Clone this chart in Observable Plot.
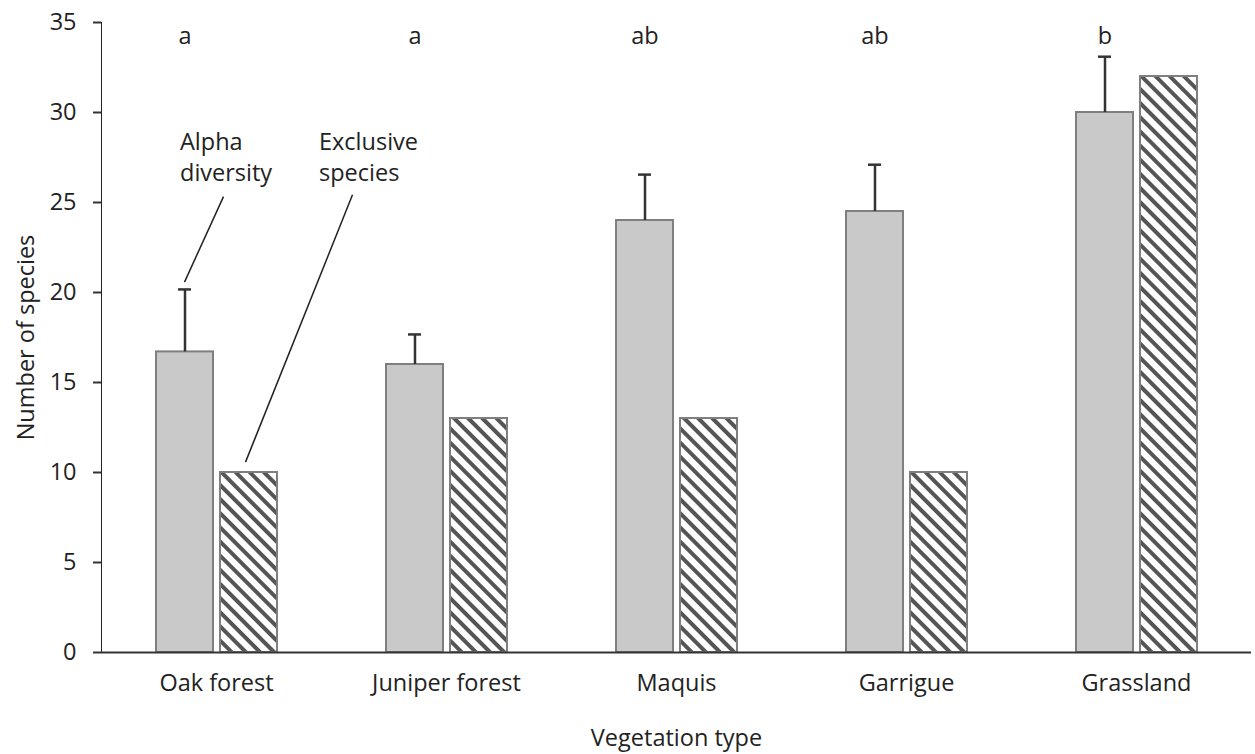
<!DOCTYPE html>
<html><head><meta charset="utf-8">
<script src="https://cdn.jsdelivr.net/npm/d3@7"></script>
<script src="https://cdn.jsdelivr.net/npm/@observablehq/plot@0.6"></script>
<style>
body{margin:0;background:#fff}
#chart svg{display:block}
#chart svg [aria-label^="y-axis"] path, #chart svg [aria-label^="y-axis"] line { stroke-width: 2px; stroke: #333; }
</style>
</head><body><div id="chart"></div>
<script>
const categories = ["Oak forest", "Juniper forest", "Maquis", "Garrigue", "Grassland"];
const series = ["Alpha diversity", "Exclusive species"];
const alphaDiversity = [16.7, 16.0, 24.0, 24.5, 30.0];
const alphaError = [3.47, 1.67, 2.55, 2.6, 3.1];
const exclusiveSpecies = [10, 13, 13, 10, 32];
const groupLetters = ["a", "a", "ab", "ab", "b"];
const yTicks = [0, 5, 10, 15, 20, 25, 30, 35];
const annotationText = ["Alpha\ndiversity", "Exclusive\nspecies"];

const rows = categories.flatMap((c, i) => [
  {category: c, series: series[0], value: alphaDiversity[i], err: alphaError[i], letter: groupLetters[i], note: annotationText[0]},
  {category: c, series: series[1], value: exclusiveSpecies[i], err: null, letter: null, note: annotationText[1]}
]);

const isAlpha = d => d.series === series[0];
const ink = "#222";

const plot = Plot.plot({
  width: 1255, height: 754,
  marginLeft: 100, marginRight: 3, marginTop: 22, marginBottom: 102,
  style: {fontFamily: "'Open Sans', sans-serif", fontSize: "23.5px", color: ink, background: "#fff"},
  facet: {data: rows, x: "category"},
  fx: {domain: categories, padding: 0, axis: "bottom", label: "Vegetation type", labelAnchor: "center",
       tickSize: 0, tickPadding: 22, labelOffset: 93},
  x: {domain: series, axis: null, paddingInner: 0.11, paddingOuter: 0.827},
  y: {domain: [0, 35], ticks: yTicks, tickSize: 8, tickPadding: 17, line: true,
      label: "Number of species", labelAnchor: "center", labelOffset: 84, labelArrow: "none"},
  color: {domain: series, range: ["#c9c9c9", "url(#hatch)"]},
  marks: [
    Plot.barY(rows, {x: "series", y: "value", fill: "series", stroke: "#7f7f7f", strokeWidth: 2}),
    Plot.ruleX(rows, {filter: isAlpha, x: "series", y1: "value", y2: d => d.value + d.err, stroke: "#333", strokeWidth: 2.5}),
    Plot.tickY(rows, {filter: isAlpha, x: "series", y: d => d.value + d.err, stroke: "#333", strokeWidth: 2.5, insetLeft: 22, insetRight: 22}),
    Plot.text(rows, {filter: isAlpha, x: "series", y: () => 34.25, text: "letter", fill: ink}),
    Plot.text(rows, {filter: d => d.category === categories[0] && isAlpha(d), x: "series", y: () => 27.6, text: "note",
                     textAnchor: "start", dx: -5, lineHeight: 1.33, fill: ink}),
    Plot.text(rows, {filter: d => d.category === categories[0] && !isAlpha(d), x: "series", y: () => 27.6, text: "note",
                     textAnchor: "start", dx: 70, lineHeight: 1.33, fill: ink}),
    Plot.ruleY([0], {stroke: "#333", strokeWidth: 2})
  ]
});

// hatch pattern for the exclusive-species bars
const defs = d3.select(plot).insert("defs", ":first-child");
const pat = defs.append("pattern").attr("id", "hatch").attr("patternUnits", "userSpaceOnUse")
  .attr("width", 10).attr("height", 10).attr("patternTransform", "rotate(-45)");
pat.append("rect").attr("width", 10).attr("height", 10).attr("fill", "#fff");
pat.append("rect").attr("width", 4).attr("height", 10).attr("fill", "#555");

document.getElementById("chart").appendChild(plot);

// leader lines for the annotations, positioned through the plot's own scales
const sfx = plot.scale("fx"), sx = plot.scale("x"), sy = plot.scale("y");
const cx = s => sfx.apply(categories[0]) + (sx.apply(s) - Math.min(...sx.range)) + sx.bandwidth / 2;
const leaders = [
  {x1: cx(series[0]), y1: sy.apply(20.55), x2: cx(series[0]) + 39, y2: sy.apply(25.3)},
  {x1: cx(series[1]) - 3, y1: sy.apply(10.55), x2: cx(series[1]) + 104, y2: sy.apply(25.4)}
];
d3.select(plot).append("g").selectAll("line").data(leaders).join("line")
  .attr("x1", d => d.x1).attr("y1", d => d.y1).attr("x2", d => d.x2).attr("y2", d => d.y2)
  .attr("stroke", ink).attr("stroke-width", 1.5);
</script>
</body></html>
